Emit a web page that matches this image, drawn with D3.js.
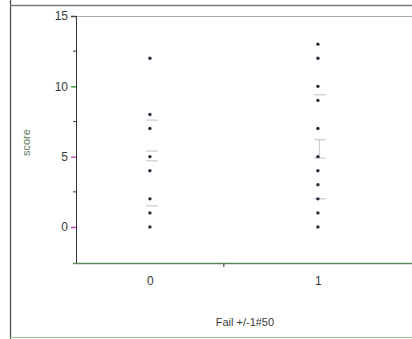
<!DOCTYPE html>
<html>
<head>
<meta charset="utf-8">
<script src="https://cdn.jsdelivr.net/npm/d3@7"></script>
<style>
  html, body { margin: 0; padding: 0; background: #fff; }
  svg { display: block; }
  text { font-family: "Liberation Sans", Arial, sans-serif; }
</style>
</head>
<body>
<svg id="chart" width="412" height="339"></svg>
<script>
// Scores for each group of the "Fail +/-1#50" flag
const categories = [0, 1];
const scoresFail0 = [12, 8, 7, 5, 4, 2, 1, 0];
const scoresFail1 = [13, 12, 10, 9, 7, 5, 4, 3, 2, 1, 0];
// Short summary marks drawn beside each group (quartiles and centre marks)
const summaryFail0 = [7.6, 5.4, 4.7, 1.5];
const summaryFail1 = [9.4, 6.2, 4.9, 2.0];
const yTickLabels = [0, 5, 10, 15];
const yMinorTicks = [2.5, 7.5, 12.5];
const xTickLabels = ["0", "1"];
const xMinorTicks = [0.44];
const xTitle = "Fail +/-1#50";
const yTitle = "score";

const groups = categories.map((c, i) => ({
  cat: c,
  scores: i === 0 ? scoresFail0 : scoresFail1,
  summary: i === 0 ? summaryFail0 : summaryFail1
}));

const svg = d3.select("#chart");
const plot = { left: 76, right: 412, top: 16, bottom: 263 };

const x = d3.scaleLinear().domain([-0.44, 1.56]).range([plot.left, plot.right]);
const y = d3.scaleLinear().domain([-2.56, 15]).range([plot.bottom, plot.top]);

// Outer frame
svg.append("line").attr("x1", 10.5).attr("x2", 10.5).attr("y1", 0).attr("y2", 339)
  .attr("stroke", "#444").attr("stroke-width", 1.2);
svg.append("line").attr("x1", 10).attr("x2", 412).attr("y1", 5.5).attr("y2", 5.5)
  .attr("stroke", "#777").attr("stroke-width", 1.5);
svg.append("line").attr("x1", 10).attr("x2", 412).attr("y1", 337.5).attr("y2", 337.5)
  .attr("stroke", "#9bc79b").attr("stroke-width", 1);

// Plot area top edge
svg.append("line").attr("x1", plot.left).attr("x2", plot.right)
  .attr("y1", plot.top + 0.5).attr("y2", plot.top + 0.5)
  .attr("stroke", "#aaa").attr("stroke-width", 1);

// Y axis
const yAxis = d3.axisLeft(y).tickValues(yTickLabels).tickSize(5).tickPadding(3);
const gy = svg.append("g").attr("transform", `translate(${plot.left},0)`).call(yAxis);
gy.select(".domain").attr("d", `M0.5,${plot.top}V${plot.bottom}`).attr("stroke", "#333");
gy.selectAll(".tick line").attr("stroke", (d, i) => ["#c040c0", "#c060c0", "#40a040", "#444"][i]).attr("stroke-width", 1.5);
gy.selectAll(".tick text").attr("font-size", 12).attr("fill", "#3a3a3a");
gy.selectAll(".minor").data(yMinorTicks).enter().append("line")
  .attr("x1", -3).attr("x2", 0).attr("y1", d => y(d)).attr("y2", d => y(d))
  .attr("stroke", "#555").attr("stroke-width", 1.2);

// X axis
const xAxis = d3.axisBottom(x).tickValues(categories).tickFormat((d, i) => xTickLabels[i])
  .tickSize(0).tickPadding(13);
const gx = svg.append("g").attr("transform", `translate(0,${plot.bottom})`).call(xAxis);
gx.select(".domain").attr("d", `M${plot.left - 3},0.5H${plot.right}`).attr("stroke", "#5a8a5a").attr("stroke-width", 1.5);
gx.selectAll(".tick text").attr("font-size", 12).attr("fill", "#3a3a3a");
gx.selectAll(".minor").data(xMinorTicks).enter().append("line")
  .attr("x1", d => x(d)).attr("x2", d => x(d)).attr("y1", 0).attr("y2", 4)
  .attr("stroke", "#555").attr("stroke-width", 1.2);

// Axis titles
svg.append("text").attr("x", x(0.5) + 11).attr("y", 326).attr("text-anchor", "middle")
  .attr("font-size", 11).attr("fill", "#3a3a3a").text(xTitle);
svg.append("text").attr("transform", `translate(30,${y(6)}) rotate(-90)`)
  .attr("text-anchor", "middle").attr("font-size", 11).attr("fill", "#5a7a5a").text(yTitle);

// Summary marks
const gs = svg.append("g");
groups.forEach(g => {
  gs.selectAll(null).data(g.summary).enter().append("line")
    .attr("x1", x(g.cat) - 4).attr("x2", x(g.cat) + 8)
    .attr("y1", d => y(d)).attr("y2", d => y(d))
    .attr("stroke", "#a8a8b8").attr("stroke-width", 1).attr("opacity", 0.7);
});
gs.append("line").attr("x1", x(1) + 1.5).attr("x2", x(1) + 1.5)
  .attr("y1", y(summaryFail1[1])).attr("y2", y(summaryFail1[2]))
  .attr("stroke", "#bbb").attr("stroke-width", 0.8);

// Points
const gp = svg.append("g");
groups.forEach(g => {
  gp.selectAll(null).data(g.scores).enter().append("circle")
    .attr("cx", x(g.cat)).attr("cy", d => y(d)).attr("r", 1.7)
    .attr("fill", "#2e2a3e");
});
</script>
</body>
</html>
